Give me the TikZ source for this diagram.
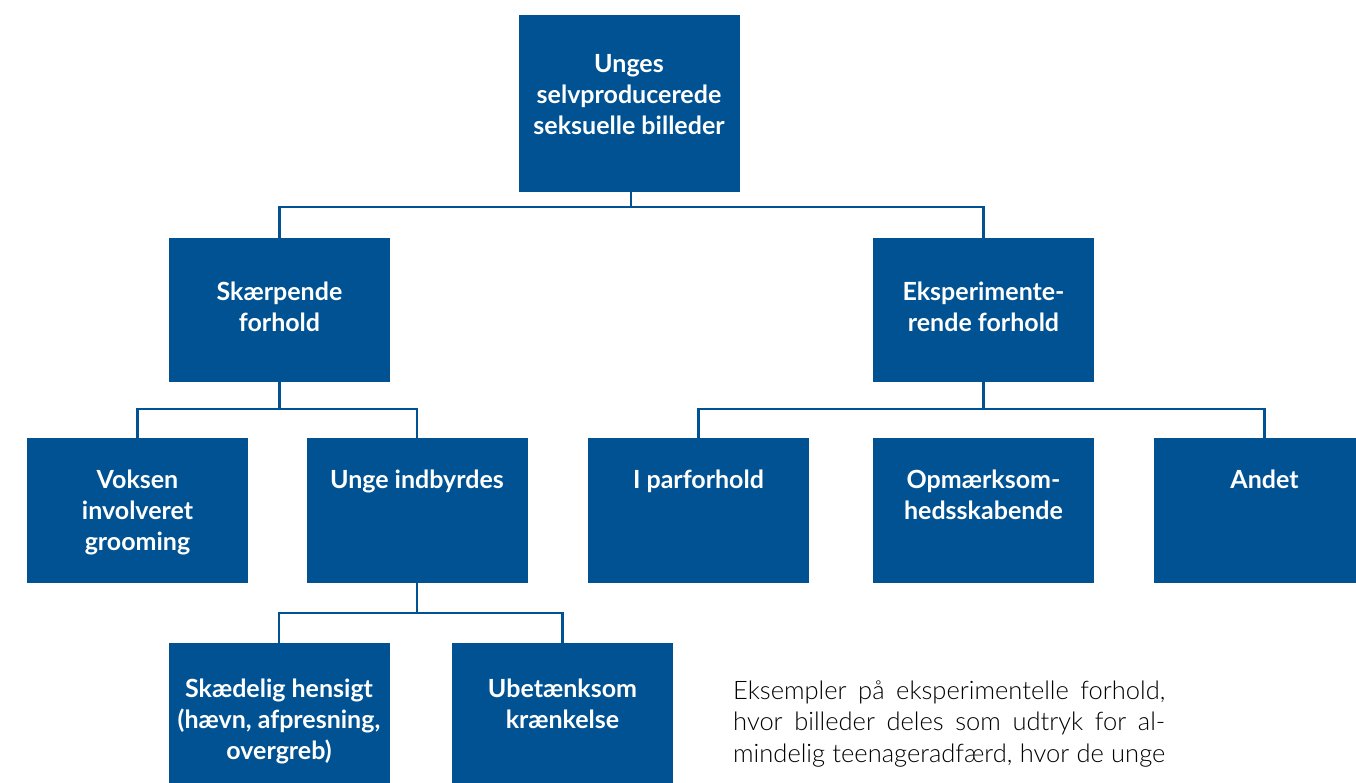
\documentclass[tikz,border=0pt]{standalone}
\usepackage{fontspec}
\setmainfont{Lato}
\newfontfamily\boxfont{Lato}
\newfontfamily\lightfont{Lato Light}
\definecolor{ublue}{RGB}{0,82,146}
\tikzset{
  ubox/.style={fill=ublue, draw=none, inner sep=0pt, anchor=north, text=white,
    font=\boxfont\bfseries\fontsize{25}{31}\selectfont},
  conn/.style={draw=ublue, line width=2.6pt},
  notetext/.style={inner sep=0pt, anchor=base west, text=black, align=left,
    font=\lightfont\fontsize{25.5}{31.5}\selectfont}
}
% #1 name, #2 cx, #3 top, #4 baseline offset, #5 height, #6 text
\newcommand\ubx[6]{\node[ubox] (#1) at (#2,#3)
  {\parbox[t][#5pt][t]{221pt}{\centering\rule{0pt}{#4pt}#6}};}
\newcommand\jline[1]{\makebox[432pt][s]{#1}}
\begin{document}
\begin{tikzpicture}[x=1pt,y=-1pt]
\useasboundingbox (0,0) rectangle (1356,783);
\clip (0,0) rectangle (1356,783);
% boxes
\ubx{top}{629}{15}{57}{177}{Unges\\selvproducerede\\seksuelle billeder}
\ubx{sk}{279.5}{238}{62}{144}{Skærpende\\forhold}
\ubx{eks}{983.5}{238}{62}{144}{Eksperimente-\\rende forhold}
\ubx{vok}{137.5}{438}{50}{145}{Voksen\\involveret\\grooming}
\ubx{unge}{417}{438}{50}{145}{Unge indbyrdes}
\ubx{par}{698.5}{438}{50}{145}{I parforhold}
\ubx{opm}{983.5}{438}{50}{145}{Opmærksom-\\hedsskabende}
\ubx{and}{1264.5}{438}{50}{145}{Andet}
\ubx{skad}{279}{643}{54}{160}{Skædelig hensigt\\(hævn, afpresning,\\overgreb)}
\ubx{ubet}{562.5}{643}{54}{160}{Ubetænksom\\krænkelse}
% bus coordinates
\coordinate (b1) at (0,207);
\coordinate (b2) at (0,409);
\coordinate (b3) at (0,613);
% connectors
\draw[conn] (top.south) ++(2,0) coordinate (tops) -- (tops |- b1) -| (sk.north);
\draw[conn] (tops |- b1) -| (eks.north);
\draw[conn] (sk.south) -- (sk.south |- b2) -| (vok.north);
\draw[conn] (sk.south |- b2) -| (unge.north);
\draw[conn] (eks.south) -- (eks.south |- b2) -| (par.north);
\draw[conn] (eks.south |- b2) -| (and.north);
\draw[conn] (unge.south) -- (unge.south |- b3) -| (skad.north);
\draw[conn] (unge.south |- b3) -| (ubet.north);
% note text
\node[notetext] (note) at (733,762) {\jline{Eksempler på eksperimentelle forhold,}\\
\jline{hvor billeder deles som udtryk for al-}\\
\jline{mindelig teenageradfærd, hvor de unge}};
\end{tikzpicture}
\end{document}
